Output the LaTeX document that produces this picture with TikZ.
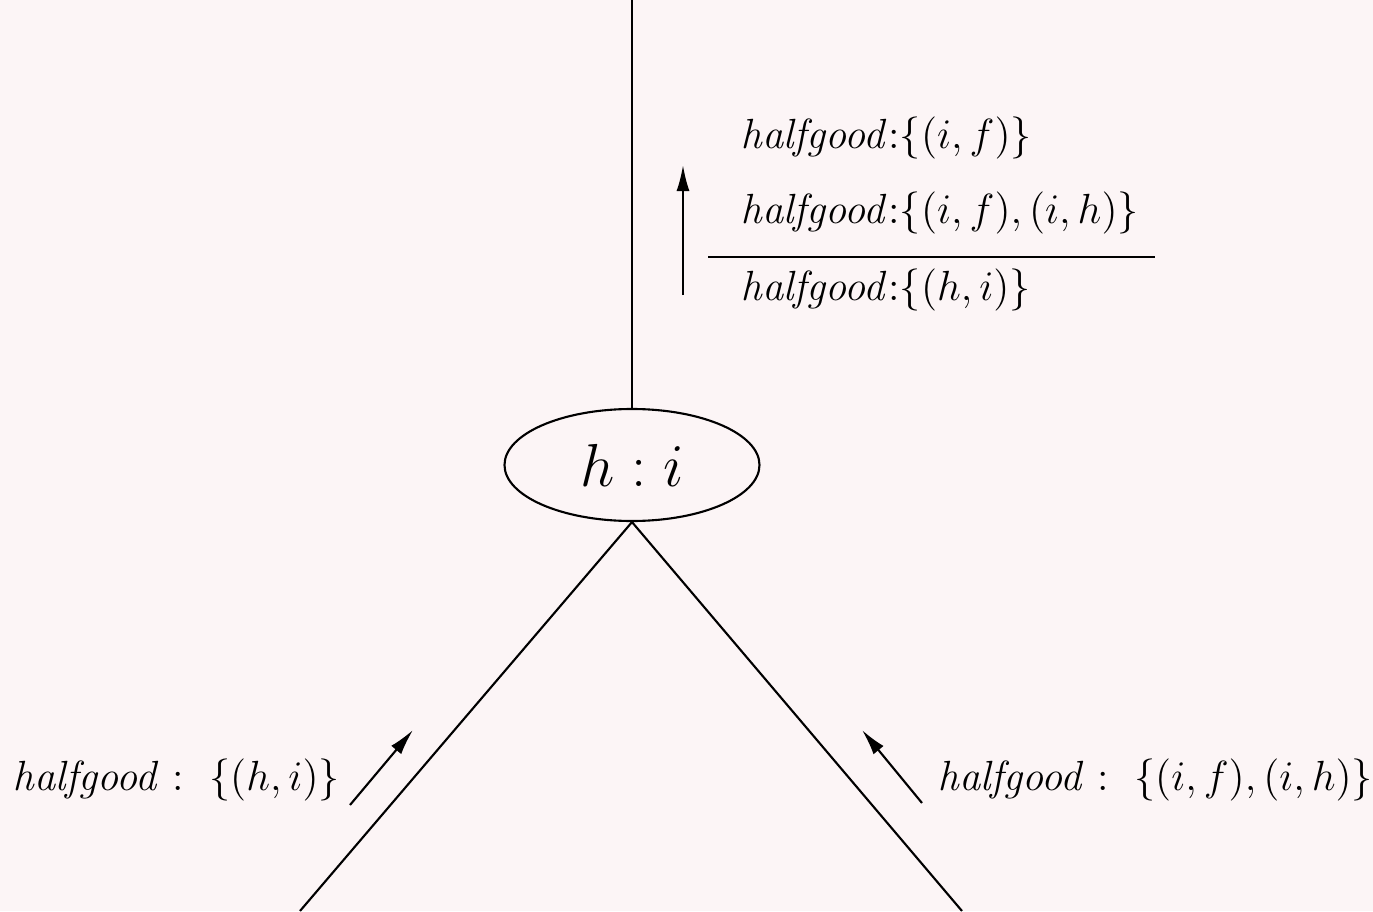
\documentclass[tikz,border=0pt]{standalone}
\usepackage{xcolor}
\usepackage{tikz}
\usetikzlibrary{arrows.meta,positioning,shapes.geometric}
\definecolor{paperPink}{HTML}{FCF5F6}

\begin{document}
\begin{tikzpicture}[
    font=\large,
    vertex/.style={draw, ellipse, minimum width=2.55cm, minimum height=1.12cm, inner sep=0pt, font=\LARGE, line width=0.6pt},
    msg/.style={anchor=west, inner sep=0pt},
    edge/.style={line width=0.6pt},
    flow/.style={-{Latex[length=2.6mm,width=1.3mm]}, line width=0.6pt}
]

\fill[paperPink] (0,0) rectangle (13.73,9.11);
\useasboundingbox (0,0) rectangle (13.73,9.11);

\node[vertex] (hi) at (6.32,4.46) {$h:i$};
\coordinate (top) at (6.32,9.11);
\coordinate (leftend) at (3.00,0);
\coordinate (rightend) at (9.62,0);

\draw[edge] (top) -- (hi.north);
\draw[edge] (hi.south) -- (leftend);
\draw[edge] (hi.south) -- (rightend);

% messages going up
\node[msg] (sentone) at (7.40,7.73) {$\mathit{halfgood}$:$\{(i,f)\}$};
\node[msg] (senttwo) at (7.40,6.98) {$\mathit{halfgood}$:$\{(i,f),(i,h)\}$};
\node[msg] (recvd) at (7.40,6.21) {$\mathit{halfgood}$:$\{(h,i)\}$};
\coordinate (rulestart) at (7.08,6.54);
\coordinate (ruleend) at (11.55,6.54);
\draw[edge] (rulestart) -- (ruleend);

\coordinate (upfrom) at (6.83,6.16);
\coordinate (upto) at (6.83,7.46);
\draw[flow] (upfrom) -- (upto);

% messages from the children
\node[msg] (fromleft) at (0.12,1.31) {$\mathit{halfgood}:\ \{(h,i)\}$};
\node[msg] (fromright) at (9.37,1.31) {$\mathit{halfgood}:\ \{(i,f),(i,h)\}$};

\coordinate (leftfrom) at (3.50,1.06);
\coordinate (leftto) at (4.13,1.81);
\coordinate (rightfrom) at (9.22,1.08);
\coordinate (rightto) at (8.62,1.81);
\draw[flow] (leftfrom) -- (leftto);
\draw[flow] (rightfrom) -- (rightto);

\end{tikzpicture}
\end{document}
